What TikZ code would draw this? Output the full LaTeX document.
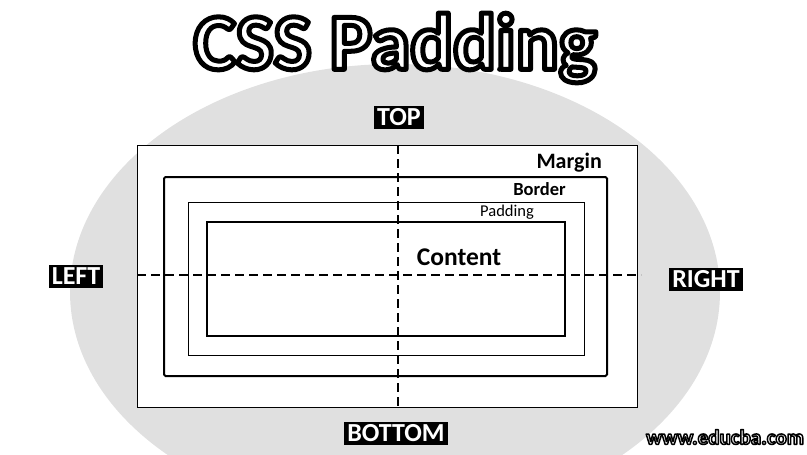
\documentclass[tikz,border=0pt]{standalone}
\usepackage{fontspec}
\setmainfont{Carlito}
\usetikzlibrary{positioning,calc}
% outlined text: white fill, black stroke
\newcommand{\outlined}[2]{{\color{white}\special{pdf:code q 2 Tr #1 w 1 J 1 j 0 G}#2\special{pdf:code Q}}}

\begin{document}
\begin{tikzpicture}[
  x=1pt, y=-1pt,
  layer/.style={draw=black, line width=#1, inner sep=0pt},
  tag/.style={fill=black, text=white, font=\bfseries\fontsize{26}{26}\selectfont,
    inner xsep=3pt, inner ysep=0pt, minimum height=23pt, text depth=0pt},
  lbl/.style={anchor=east, inner sep=0pt},
  axis/.style={line width=2.5pt, dash pattern=on 9pt off 5pt}
]
  \clip (0,0) rectangle (807,455);
  % Background
  \fill[black!12] (395,292) ellipse (325 and 228);

  % Title
  \node (title) at (395,48) {\fontsize{80}{80}\selectfont\bfseries\outlined{5}{CSS Padding}};

  % Nested boxes
  \node[layer=1pt, fill=white, minimum width=500pt, minimum height=262pt] (margin) at (387,276) {};
  \node[layer=2pt, rounded corners=1.5pt, minimum width=443pt, minimum height=199pt] (border) at (385.5,276.5) {};
  \node[layer=1pt, minimum width=396pt, minimum height=153pt] (padding) at (386,278.5) {};
  \node[layer=2pt, minimum width=358pt, minimum height=114pt] (content) at (386,279) {};

  % Box labels
  \node[lbl, font=\bfseries\fontsize{22}{22}\selectfont] (marginlbl) at (602,163) {Margin};
  \node[lbl, font=\bfseries\fontsize{18.5}{18.5}\selectfont] (borderlbl) at (566,189) {Border};
  \node[lbl, font=\fontsize{16.5}{16.5}\selectfont] (paddinglbl) at (534,212) {Padding};
  \node[font=\bfseries\fontsize{25.5}{25.5}\selectfont] (contentlbl) at (459,257) {Content};

  % Axes
  \coordinate (vtop) at (398,145);
  \coordinate (vbot) at (398,408);
  \coordinate (hleft) at (137,275);
  \coordinate (hright) at (641,275);
  \draw[axis] (vtop) -- (vbot);
  \draw[axis] (hleft) -- (hright);

  % Side tags
  \node[tag] (top) at (399,117) {TOP};
  \node[tag] (left) at (76,276) {LEFT};
  \node[tag] (right) at (706,279) {RIGHT};
  \node[tag] (bottom) at (396,433) {BOTTOM};

  % Watermark
  \node[font=\bfseries\fontsize{21}{21}\selectfont] (site) at (725,437) {\outlined{1.5}{www.educba.com}};
\end{tikzpicture}
\end{document}
